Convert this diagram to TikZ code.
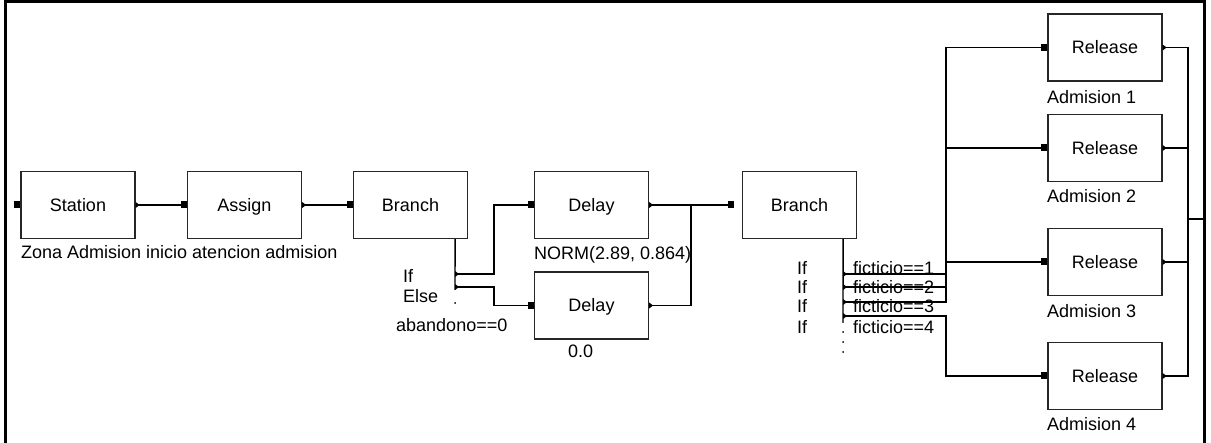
\documentclass[tikz,border=0pt]{standalone}
\usepackage{fontspec}
\setmainfont{Liberation Sans}
\tikzset{
  blk/.style={draw=black!85, line width=1.2pt, minimum width=114pt, minimum height=67pt, inner sep=0pt, fill=white,
    text height=12.9pt, text depth=0pt, font=\fontsize{18}{21}\selectfont},
  lbl/.style={inner sep=0pt, anchor=base west, font=\fontsize{18}{21}\selectfont},
  conn/.style={line width=1.4pt, black},
  frame/.style={line width=3pt, black},
  inmk/.pic={\fill (-6,-3.5) rectangle (0,3.5);},
  outmk/.pic={\fill (0,-3) -- (4,0) -- (0,3) -- cycle;},
  dotmk/.style={fill=black}
}
\begin{document}
\begin{tikzpicture}[x=1pt,y=-1pt]
\useasboundingbox (0,0) rectangle (1211,443);
% frame
\draw[frame] (5.5,443) -- (5.5,1.5) -- (1204,1.5) -- (1204,443);

% blocks
\node[blk] (st) at (78,205) {Station};
\node[blk] (as) at (244.5,205) {Assign};
\node[blk] (b1) at (410.5,205) {Branch};
\node[blk] (d1) at (591.5,205) {Delay};
\node[blk] (d2) at (591.5,305.5) {Delay};
\node[blk] (b2) at (799.5,205) {Branch};
\node[blk] (r1) at (1105,47.5) {Release};
\node[blk] (r2) at (1105,148) {Release};
\node[blk] (r3) at (1105,262) {Release};
\node[blk] (r4) at (1105,376) {Release};

% labels
\node[lbl] (lzona) at (21,259) {Zona Admision inicio atencion admision};
\node[lbl] (lif) at (403,283) {If};
\node[lbl] (lelse) at (403,303) {Else};
\node[lbl] (laband) at (396,332) {abandono==0};
\node[lbl] (lnorm) at (534,260) {NORM(2.89, 0.864)};
\node[lbl] (lzero) at (568,358) {0.0};
\node[lbl] (lif1) at (797,275) {If};
\node[lbl] (lif2) at (797,294) {If};
\node[lbl] (lif3) at (797,313) {If};
\node[lbl] (lif4) at (797,334) {If};
\node[lbl] (lf1) at (853,275) {ficticio==1};
\node[lbl] (lf2) at (853,294) {ficticio==2};
\node[lbl] (lf3) at (853,313) {ficticio==3};
\node[lbl] (lf4) at (853,334) {ficticio==4};
\node[lbl] (la1) at (1047,104) {Admision 1};
\node[lbl] (la2) at (1047,203) {Admision 2};
\node[lbl] (la3) at (1047,318) {Admision 3};
\node[lbl] (la4) at (1047,431) {Admision 4};

% connectors: main line
\draw[conn] (st.east) -- (as.west);
\draw[conn] (as.east) -- (b1.west);

% branch 1
\coordinate (b1v) at ([xshift=-13pt]b1.south east);
\coordinate (b1if) at (455,274);
\coordinate (b1else) at (455,287);
\draw[conn] (b1v) -- (455,290);
\draw[conn] (b1if) -- (494,274) |- (d1.west);
\draw[conn] (b1else) -- (494,287) |- (d2.west);
\fill (455,303) circle (1pt);

% delays to branch 2
\draw[conn] (d1.east) -- ++(42,0) coordinate (j);
\draw[conn] (d2.east) -| (j);
\coordinate (b2in) at ([xshift=-8pt]b2.west);
\draw[conn] (j) -- (b2in);

% branch 2
\coordinate (b2v) at ([xshift=-14pt]b2.south east);
\coordinate (e1) at (843,274);
\coordinate (e2) at (843,287);
\coordinate (e3) at (843,302);
\coordinate (e4) at (843,316);
\draw[conn] (b2v) -- (843,323);
\draw[conn] (e1) -- (946,274) |- (r1.west);
\draw[conn] (e2) -- (946,287) |- (r2.west);
\draw[conn] (e3) -- (946,302) |- (r3.west);
\draw[conn] (e4) -- (946,316) |- (r4.west);
\foreach \yy in {332,342,352} \fill (843,\yy) circle (1pt);

% releases to exit
\coordinate (rbus) at (1188,219);
\coordinate (rout) at (1204,219);
\draw[conn] (r1.east) -| (rbus);
\draw[conn] (r2.east) -| (rbus);
\draw[conn] (r3.east) -| (rbus);
\draw[conn] (r4.east) -| (rbus);
\draw[conn] (rbus) -- (rout);

% entry markers
\foreach \n in {st.west,as.west,b1.west,d1.west,d2.west,b2in,r1.west,r2.west,r3.west,r4.west}
  \pic at (\n) {inmk};
% exit markers
\foreach \n in {st.east,as.east,d1.east,d2.east,r1.east,r2.east,r3.east,r4.east,b1if,b1else,e1,e2,e3,e4}
  \pic at (\n) {outmk};
\end{tikzpicture}
\end{document}
